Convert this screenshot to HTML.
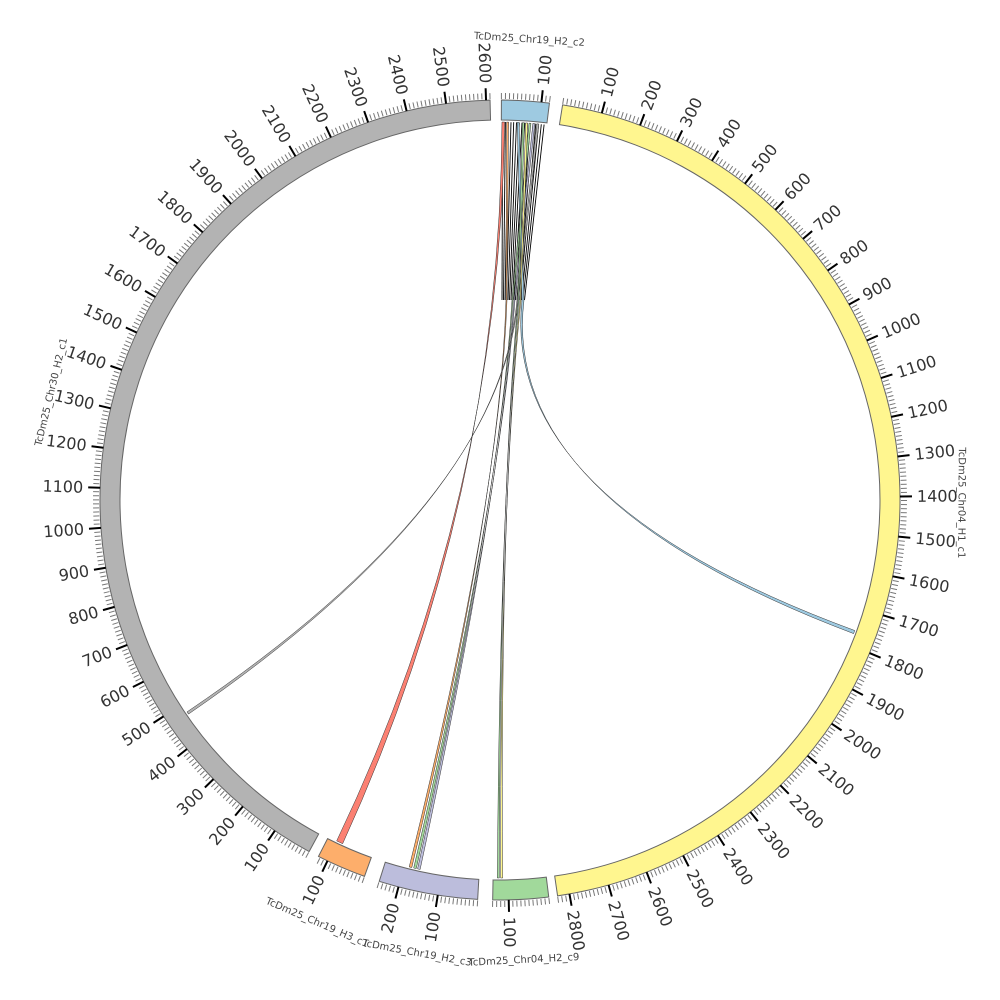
<!DOCTYPE html>
<html><head><meta charset="utf-8"><style>html,body{margin:0;padding:0;background:#fff}svg{display:block}text{font-family:"DejaVu Sans","Liberation Sans",sans-serif}</style></head>
<body>
<svg id="s" width="1000" height="1000" viewBox="0 0 1000 1000" xmlns="http://www.w3.org/2000/svg"></svg>
<script>
const cx=500,cy=500,R0=380,R1=400,S=0.0575;
const chrs=[
 ["TcDm25_Chr19_H2_c2",0.2,120,"#9ecae1"],
 ["TcDm25_Chr04_H1_c1",9.0,2830,"#fff68f"],
 ["TcDm25_Chr04_H2_c9",173.0,140,"#a1d99b"],
 ["TcDm25_Chr19_H2_c3",183.2,250,"#bcbddc"],
 ["TcDm25_Chr19_H3_c1",199.8,125,"#fdae6b"],
 ["TcDm25_Chr30_H2_c1",208.5,2610,"#b3b3b3"]];
function P(t,r){const a=t*Math.PI/180;return [cx+r*Math.sin(a),cy-r*Math.cos(a)];}
function f(p){return p[0].toFixed(2)+","+p[1].toFixed(2);}
let o="";
const RL=R0-2;
function ribbon(a1,a2,x1,x2,b1,b2,col){
 const p1=P(a1,RL),p2=P(a2,RL),q1=P(b1,RL),q2=P(b2,RL);
 o+=`<path d="M${f(p1)} A${RL},${RL} 0 0 1 ${f(p2)} L${x2},300 Q${cx},${cy} ${f(q1)} A${RL},${RL} 0 0 0 ${f(q2)} Q${cx},${cy} ${x1},300 Z" fill="${col}" stroke="#333" stroke-width="0.5"/>`;
}
function direct(a1,a2,b1,b2,col){
 const p1=P(a1,RL),p2=P(a2,RL),q1=P(b1,RL),q2=P(b2,RL);
 o+=`<path d="M${f(p1)} A${RL},${RL} 0 0 1 ${f(p2)} Q${cx},${cy} ${f(q1)} A${RL},${RL} 0 0 0 ${f(q2)} Q${cx},${cy} ${f(p1)} Z" fill="${col}" stroke="#333" stroke-width="0.5"/>`;
}
for(let i=0;i<16;i++){
 const a=0.4+i*0.42;const p=P(a,RL);
 const x2=502+i*1.5;
 o+=`<line x1="${p[0].toFixed(1)}" y1="${p[1].toFixed(1)}" x2="${x2}" y2="300" stroke="#000" stroke-width="0.9"/>`;
}
direct(0.3,0.7,205.6,204.6,"#fb8072");
ribbon(1.0,1.3,506,507,193.9,193.5,"#fdae6b");
ribbon(4.4,4.7,512,513,193.2,192.8,"#a1d99b");
ribbon(5.0,5.3,514,515,192.6,192.2,"#bcbddc");
ribbon(5.6,5.9,517,518,235.9,235.5,"#b3b3b3");
ribbon(2.6,2.9,522,524,110.7,110.2,"#9ecae1");
ribbon(3.4,3.7,518,519,180.4,180.1,"#a1d99b");
ribbon(3.9,4.2,520,521,179.9,179.6,"#fff68f");
for(const [n,st,len,col] of chrs){
 const en=st+len*S;const big=(en-st)>180?1:0;
 o+=`<path d="M${f(P(st,R1))} A${R1},${R1} 0 ${big} 1 ${f(P(en,R1))} L${f(P(en,R0))} A${R0},${R0} 0 ${big} 0 ${f(P(st,R0))}Z" fill="${col}" stroke="#666" stroke-width="1"/>`;
 for(let u=0;u<=len;u+=10){
  const t=st+u*S;
  if(u%100==0&&u>0){
   const a=P(t,R1),b=P(t,R1+12);
   o+=`<line x1="${a[0].toFixed(2)}" y1="${a[1].toFixed(2)}" x2="${b[0].toFixed(2)}" y2="${b[1].toFixed(2)}" stroke="#000" stroke-width="2"/>`;
   const lp=P(t,R1+17);let rot,anc;
   if(t<=180){rot=t-90;anc="start";}else{rot=t+90;anc="end";}
   o+=`<text x="${lp[0].toFixed(2)}" y="${lp[1].toFixed(2)}" transform="rotate(${rot.toFixed(2)} ${lp[0].toFixed(2)} ${lp[1].toFixed(2)})" text-anchor="${anc}" dominant-baseline="central" font-size="16" fill="#333">${u}</text>`;
  } else {
   const a=P(t,R1+1),b=P(t,R1+7);
   o+=`<line x1="${a[0].toFixed(2)}" y1="${a[1].toFixed(2)}" x2="${b[0].toFixed(2)}" y2="${b[1].toFixed(2)}" stroke="#777" stroke-width="1"/>`;
  }
 }
 const m=(st+en)/2;const np=P(m,461);
 let rot=m;if(m>110&&m<250)rot=m-180;
 o+=`<text x="${np[0].toFixed(2)}" y="${np[1].toFixed(2)}" transform="rotate(${rot.toFixed(2)} ${np[0].toFixed(2)} ${np[1].toFixed(2)})" text-anchor="middle" dominant-baseline="central" font-size="10" fill="#444">${n}</text>`;
}
document.getElementById("s").innerHTML=o;
</script>
</body></html>
